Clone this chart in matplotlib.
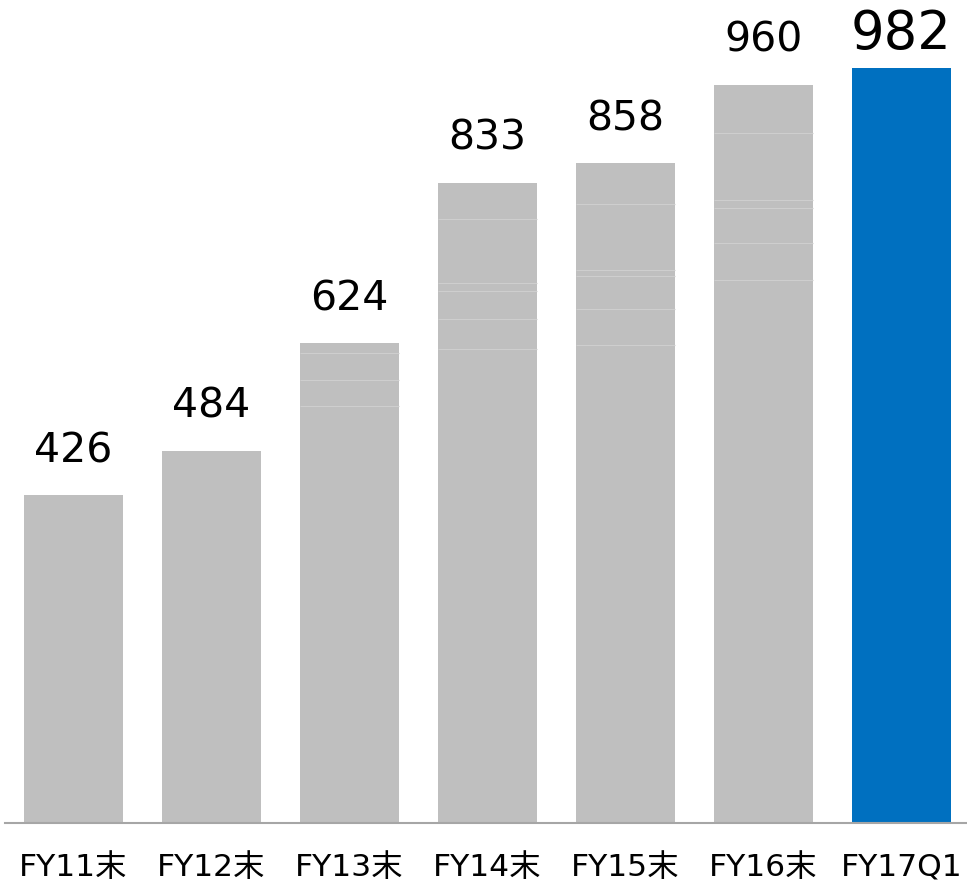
import matplotlib.pyplot as plt

plt.rcParams['font.family'] = ['DejaVu Sans', 'Noto Sans CJK JP']

categories = ["FY11末", "FY12末", "FY13末", "FY14末", "FY15末", "FY16末", "FY17Q1"]
values = [426, 484, 624, 833, 858, 960, 982]
# faint boundaries between stacked pieces inside the grey bars
segment_edges = [
    [],
    [],
    [542, 576, 611],
    [617, 656, 692, 703, 785],
    [622, 669, 711, 719, 805],
    [706, 754, 800, 810, 898],
    [],
]

grey = "#bfbfbf"
blue = "#0070c0"
colors = [grey] * 6 + [blue]

fig = plt.figure(figsize=(9.67, 8.82), dpi=100)
ax = fig.add_axes([5 / 967, 1 - 823 / 882, 962 / 967, 823 / 882])

x = list(range(len(categories)))
width = 0.717
ax.bar(x, values, width=width, color=colors, zorder=2)

for i, edges in enumerate(segment_edges):
    if edges:
        ax.hlines(edges, i - width / 2, i + width / 2, color="#cecece", linewidth=0.8, zorder=3)

for i, v in enumerate(values):
    last = i == len(values) - 1
    ax.annotate(str(v), (i, v), xytext=(0, 13.7 if last else 23.8), textcoords="offset points",
                ha="center", va="baseline", fontsize=38 if last else 29.5, color="#000000")

ax.set_xlim(-0.496, 6.475)
ax.set_ylim(0, 823 / 0.7688)
ax.set_xticks(x)
ax.set_xticklabels(categories, fontsize=22.6)
for lbl in ax.get_xticklabels():
    lbl.set_verticalalignment("baseline")
ax.tick_params(axis="x", length=0, pad=38)
ax.set_yticks([])
for side in ["top", "left", "right"]:
    ax.spines[side].set_visible(False)
ax.spines["bottom"].set_color("#a6a6a6")
ax.spines["bottom"].set_linewidth(1.5)

fig.savefig("out.png", dpi=100)
plt.close(fig)
